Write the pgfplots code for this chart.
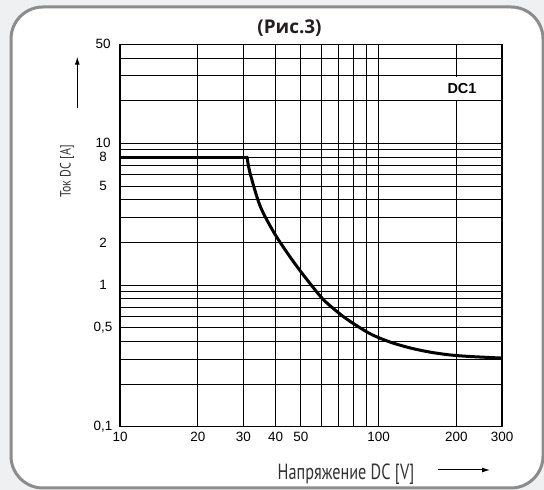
\documentclass[border=0pt]{standalone}
\usepackage{pgfplots}
\pgfplotsset{compat=1.18}
\usepackage{fontspec}
\setmainfont{Liberation Sans}
\newfontfamily\condfont[FakeStretch=0.8]{PT Sans}
\newfontfamily\condfontx[FakeStretch=0.74]{PT Sans}
\newfontfamily\titlefont{Open Sans}
\usetikzlibrary{arrows.meta}
\definecolor{bggray}{HTML}{EEF0F2}
\definecolor{bordergray}{HTML}{8C8C8C}
\definecolor{titlecol}{HTML}{231F20}
\definecolor{labelcol}{HTML}{333333}
\begin{document}
\begin{tikzpicture}[x=1bp,y=1bp]
\useasboundingbox (0,0) rectangle (544,490);
\clip (0,0) rectangle (544,490);
\fill[bggray] (0,0) rectangle (544,490);
\draw[bordergray, line width=3bp, fill=white, rounded corners=32bp] (11,2) rectangle (543,483);
\begin{axis}[
  at={(120bp,63.3bp)}, anchor=south west,
  scale only axis, width=382bp, height=382.4bp,
  xmode=log, ymode=log,
  xmin=10, xmax=300, ymin=0.1, ymax=50,
  xtick={10,20,30,40,50,100,200,300},
  xticklabels={10,20,30,40,50,100,200,300},
  minor xtick={20,30,40,50,60,70,80,90,200},
  ytick={0.1,0.5,1,2,5,8,10,50},
  yticklabels={{0,1},{0,5},1,2,5,8,10,50},
  minor ytick={0.2,0.3,0.4,0.6,0.7,0.8,0.9,3,4,6,7,9,20,30,40},
  grid=both,
  major grid style={black, line width=0.8bp},
  minor grid style={black, line width=0.8bp},
  major tick length=0pt, minor tick length=0pt,
  axis line style={black, line width=1.2bp},
  tick label style={font=\fontsize{13.5}{16}\selectfont},
  /pgf/number format/assume math mode=true,
  xticklabel style={yshift=-2bp},
  yticklabel style={anchor=center, xshift=-17bp},
]
\node[fill=white, inner sep=0pt, minimum width=50bp, minimum height=23bp, font=\bfseries\fontsize{14.5}{16}\selectfont] at (axis cs:210,24.3) {DC1};
\addplot[black, line width=3bp, line cap=round] coordinates {(10,8) (31,8)};
\addplot[black, line width=3bp, line cap=round, smooth] coordinates {
(31,8) (31.8,6.21) (34.8,3.62) (39.2,2.38) (44.1,1.71) (49.7,1.262)
(59.3,0.839) (64.9,0.714) (75.3,0.575) (92.7,0.453) (110.7,0.396)
(132.1,0.360) (158.1,0.336) (188.8,0.321) (225.4,0.313) (300,0.305)};
\end{axis}
\node[text=titlecol, font=\titlefont\bfseries\fontsize{19}{22}\selectfont] at (289.5,462) {(Рис.3)};
\node[text=labelcol, rotate=90, font=\condfont\fontsize{15}{18}\selectfont] at (67,318.5) {Ток DC [A]};
\draw[-{Latex[length=8bp,width=5bp]}, line width=1bp] (77.3,382) -- (77.3,433.3);
\node[text=labelcol, anchor=base, font=\condfontx\fontsize{22}{24}\selectfont] at (346,10.7) {Напряжение DC [V]};
\draw[-{Latex[length=8bp,width=5bp]}, line width=1bp] (437.7,20) -- (490,20);
\end{tikzpicture}
\end{document}
